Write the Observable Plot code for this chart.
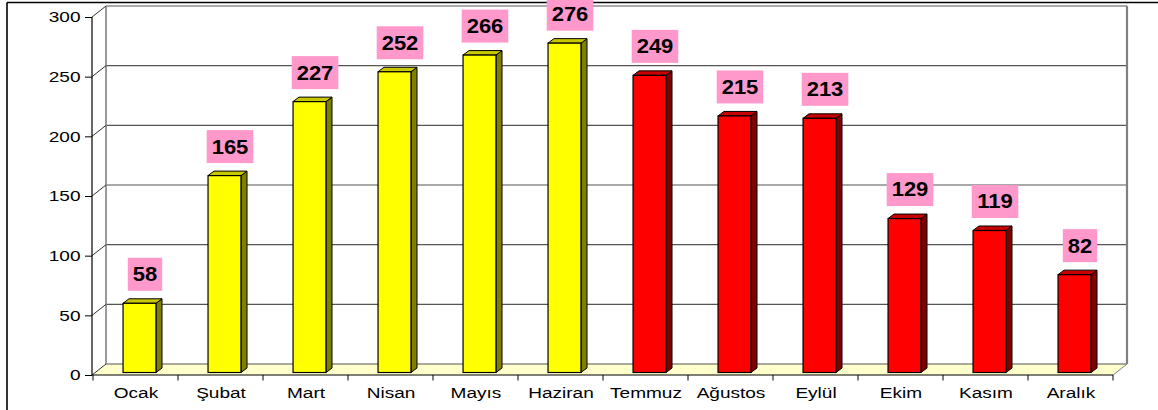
<!DOCTYPE html>
<html><head><meta charset="utf-8">
<script src="https://cdn.jsdelivr.net/npm/d3@7"></script>
<script src="https://cdn.jsdelivr.net/npm/@observablehq/plot@0.6"></script>
<style>html,body{margin:0;padding:0;background:#fff;overflow:hidden}</style>
</head><body><div id="chart"></div>
<script>
// ---- data ----
const months = ["Ocak","Şubat","Mart","Nisan","Mayıs","Haziran","Temmuz","Ağustos","Eylül","Ekim","Kasım","Aralık"];
const values = [58,165,227,252,266,276,249,215,213,129,119,82];
const groups = ["ilk","ilk","ilk","ilk","ilk","ilk","son","son","son","son","son","son"];
const yTicks = [0,50,100,150,200,250,300];

// ---- style ----
const faceColors = {ilk:{front:"#ffff00",top:"#c8c800",side:"#808000"}, son:{front:"#ff0000",top:"#c80000",side:"#800000"}};
const DX = 14, DY = -11;      // wall depth
const BDX = 6, BDY = -4.5;    // bar depth
const OFF_X = 4, OFF_Y = -2.5;
const BAR_W = 33;
const W = 1158, H = 410, ML = 92, MR = 45, MT = 17, MB = 35;
const BANDW = (W - ML - MR) / months.length;
const INSET = (BANDW - BAR_W) / 2;

const data = months.map((m, i) => ({month: m, value: values[i], group: groups[i]}));

const NS = "http://www.w3.org/2000/svg";
function el(tag, attrs) { const e = document.createElementNS(NS, tag); for (const k in attrs) e.setAttribute(k, attrs[k]); return e; }
function line(g, x1, y1, x2, y2, stroke, sw) { g.appendChild(el("line", {x1, y1, x2, y2, stroke, "stroke-width": sw})); }
function bwOf(s) { return typeof s.bandwidth === "function" ? s.bandwidth() : s.bandwidth; }
function stretch(t, sx) {
  const tr = t.getAttribute("transform");
  if (tr) t.setAttribute("transform", tr + ` scale(${sx},1)`);
  else { const x = +t.getAttribute("x") || 0, y = +t.getAttribute("y") || 0;
    t.setAttribute("transform", `translate(${x},${y}) scale(${sx},1) translate(${-x},${-y})`); }
}

const walls = Plot.ruleY(yTicks, {y: d => d, render: (index, scales, vals, dims) => {
  const g = el("g", {});
  const y = scales.y, xL = dims.marginLeft, xR = dims.width - dims.marginRight;
  const y0 = y(0), yT = y(d3.max(yTicks));
  g.appendChild(el("polygon", {points: `${xL},${y0} ${xR},${y0} ${xR+DX},${y0+DY} ${xL+DX},${y0+DY}`, fill: "#ffffcc", stroke: "none"}));
  for (const t of yTicks) line(g, xL+DX, y(t)+DY, xR+DX, y(t)+DY, "#555", 1.2);
  line(g, xL+DX, y0+DY, xL+DX, yT+DY, "#808080", 1.6);
  line(g, xR+DX, y0+DY, xR+DX, yT+DY, "#808080", 2.2);
  line(g, xR, y0, xR+DX, y0+DY, "#808080", 1);
  for (const t of yTicks) line(g, xL, y(t), xL+DX, y(t)+DY, "#333", 1);
  line(g, xL, y0, xL, yT, "#000", 1.2);
  line(g, xL, y0, xR, y0, "#000", 1.2);
  const bw = bwOf(scales.x);
  const bounds = months.map(m => scales.x(m)).concat([scales.x(months[months.length-1]) + bw]);
  for (const b of bounds) line(g, b, y0, b, y0 + 5.5, "#000", 1);
  // outer chart-area border (top and left)
  line(g, 7, 2.5, dims.width, 2.5, "#000", 1.6);
  line(g, 7, 2.5, 7, dims.height, "#000", 1.6);
  return g;
}});

const faces = Plot.barY(data, {x: "month", y: "value", render: (index, scales) => {
  const g = el("g", {});
  const bw = bwOf(scales.x);
  for (const i of index) {
    const d = data[i], c = faceColors[d.group];
    const xa = scales.x(d.month) + (bw - BAR_W) / 2 + OFF_X, xb = xa + BAR_W;
    const yt = scales.y(d.value) + OFF_Y, yb = scales.y(0) + OFF_Y;
    g.appendChild(el("polygon", {points: `${xb},${yb} ${xb},${yt} ${xb+BDX},${yt+BDY} ${xb+BDX},${yb+BDY}`, fill: c.side, stroke: "#000", "stroke-width": 1, "stroke-linejoin": "round"}));
    g.appendChild(el("polygon", {points: `${xa},${yt} ${xb},${yt} ${xb+BDX},${yt+BDY} ${xa+BDX},${yt+BDY}`, fill: c.top, stroke: "#000", "stroke-width": 1, "stroke-linejoin": "round"}));
  }
  return g;
}});

const fronts = Plot.barY(data, {x: "month", y: "value", fill: "group", stroke: "#000", strokeWidth: 1.2,
  insetLeft: INSET, insetRight: INSET, dx: OFF_X, dy: OFF_Y});

const labels = Plot.text(data, {x: "month", y: "value", text: d => String(d.value),
  dx: 9, dy: -31.5, fontSize: 20, fontWeight: "bold", fill: "#000", lineAnchor: "middle",
  render: (index, scales, vals, dims, ctx, next) => {
    const g = next(index, scales, vals, dims, ctx);
    const texts = g.querySelectorAll("text");
    index.forEach((i, j) => {
      const t = texts[j]; if (!t) return;
      const len = String(data[i].value).length;
      const w = 12.2 * len + 10, h = 33;
      const cx = vals.x ? vals.x[i] : 0, cy = vals.y ? vals.y[i] : 0;
      const r = el("rect", {x: cx - w/2, y: cy - h/2 - 0.5, width: w, height: h, fill: "#ff99cc", stroke: "none"});
      t.parentNode.insertBefore(r, t);
      stretch(t, 1.1);
    });
    return g;
  }});

const chart = Plot.plot({
  width: W, height: H, marginLeft: ML, marginRight: MR, marginTop: MT, marginBottom: MB,
  style: {fontFamily: "'Liberation Sans', Arial, sans-serif", background: "#fff", color: "#000"},
  x: {domain: months, padding: 0, label: null},
  y: {domain: [0, 300], label: null},
  color: {domain: ["ilk","son"], range: ["#ffff00","#ff0000"]},
  marks: [
    walls, faces, fronts, labels,
    Plot.axisY(yTicks, {anchor: "left", tickSize: 7, tickPadding: 5, fontSize: 15}),
    Plot.axisX({anchor: "bottom", tickSize: 0, tickPadding: 12, fontSize: 15})
  ]
});
chart.querySelectorAll('[aria-label="y-axis tick label"] text, [aria-label="x-axis tick label"] text').forEach(t => stretch(t, 1.27));
document.getElementById("chart").appendChild(chart);
</script>
</body></html>
